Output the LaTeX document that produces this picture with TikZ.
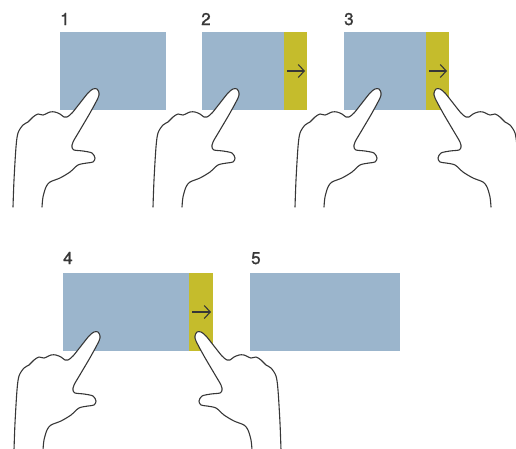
\documentclass[tikz,border=0pt]{standalone}
\usepackage{fontspec}
\setmainfont{TeX Gyre Heros}
\newfontfamily\stepfont[FakeBold=1.3]{TeX Gyre Heros}
\usetikzlibrary{arrows.meta}
\definecolor{panelblue}{RGB}{155,181,204}
\definecolor{swipeyellow}{RGB}{197,188,44}
\definecolor{ink}{RGB}{55,55,55}
\begin{document}
\begin{tikzpicture}[x=1pt,y=-1pt,
  screen/.style={fill=panelblue, draw=none, inner sep=0pt, outer sep=0pt,
    anchor=north west, minimum height=78pt},
  edgebar/.style={fill=swipeyellow, draw=none, inner sep=0pt, outer sep=0pt,
    anchor=north west, minimum height=78pt},
  num/.style={anchor=base west, inner sep=0pt, text=ink,
    font=\stepfont\fontsize{17}{17}\selectfont},
  swipe/.style={draw=ink, line width=1.1pt,
    -{Straight Barb[length=6pt,width=13pt]}},
  outline/.style={draw=ink, line width=1.1pt, line join=round, line cap=round},
  % a hand with the index finger raised; the fingertip sits at the pic origin
  hand/.pic={
    \fill[white] plot[smooth, tension=0.5] coordinates {
      (-84,117) (-83,90) (-81,57) (-79,43) (-74,35) (-69,32) (-64,27)
      (-59,24) (-54,25) (-47,22) (-42,22) (-37,24) (-33,27) (-30,27)
      (-25,23) (-17,13) (-9,3) (-4,-1) (0,-1) (2,3) (1,8) (-7,23)
      (-17,40) (-24,52) (-25,57) (-23,60) (-14,61) (-5,63) (-2,68)
      (-4,72) (-10,73) (-19,75) (-27,82) (-37,88) (-47,92) (-51,97)
      (-54,107) (-55,117)} -- cycle;
    \draw[outline] plot[smooth, tension=0.5] coordinates {
      (-84,117) (-83,90) (-81,57) (-79,43) (-74,35) (-69,32) (-64,27)
      (-59,24) (-54,25) (-47,22) (-42,22) (-37,24) (-33,27) (-30,27)
      (-25,23) (-17,13) (-9,3) (-4,-1) (0,-1) (2,3) (1,8) (-7,23)
      (-17,40) (-24,52) (-25,57) (-23,60) (-14,61) (-5,63) (-2,68)
      (-4,72) (-10,73) (-19,75) (-27,82) (-37,88) (-47,92) (-51,97)
      (-54,107) (-55,117)};
  }
]
\useasboundingbox (0,0) rectangle (516,448);
\clip (0,0) rectangle (516,448);

% step labels
\node[num] (n1) at (60,25) {1};
\node[num] (n2) at (201,25) {2};
\node[num] (n3) at (344,25) {3};
\node[num] (n4) at (63,264) {4};
\node[num] (n5) at (251,264) {5};

% screens and swipe edges
\node[screen, minimum width=106pt] (s1) at (60,32) {};
\node[screen, minimum width=82pt] (s2) at (202,32) {};
\node[edgebar, minimum width=23pt] (e2) at (284,32) {};
\node[screen, minimum width=82pt] (s3) at (344,32) {};
\node[edgebar, minimum width=23pt] (e3) at (426,32) {};
\node[screen, minimum width=126pt] (s4) at (63,273) {};
\node[edgebar, minimum width=24pt] (e4) at (189,273) {};
\node[screen, minimum width=150pt] (s5) at (250,273) {};

% swipe arrows
\draw[swipe] ([xshift=3pt]e2.west) -- ([xshift=-2pt]e2.east);
\draw[swipe] ([xshift=3pt]e3.west) -- ([xshift=-2pt]e3.east);
\draw[swipe] ([xshift=3pt]e4.west) -- ([xshift=-2pt]e4.east);

% hands
\pic at (97,90) {hand};
\pic at (237,90) {hand};
\pic at (379,90) {hand};
\pic[xscale=-1] at (436,90) {hand};
\pic at (98,333) {hand};
\pic[xscale=-1] at (197,333) {hand};
\end{tikzpicture}
\end{document}
